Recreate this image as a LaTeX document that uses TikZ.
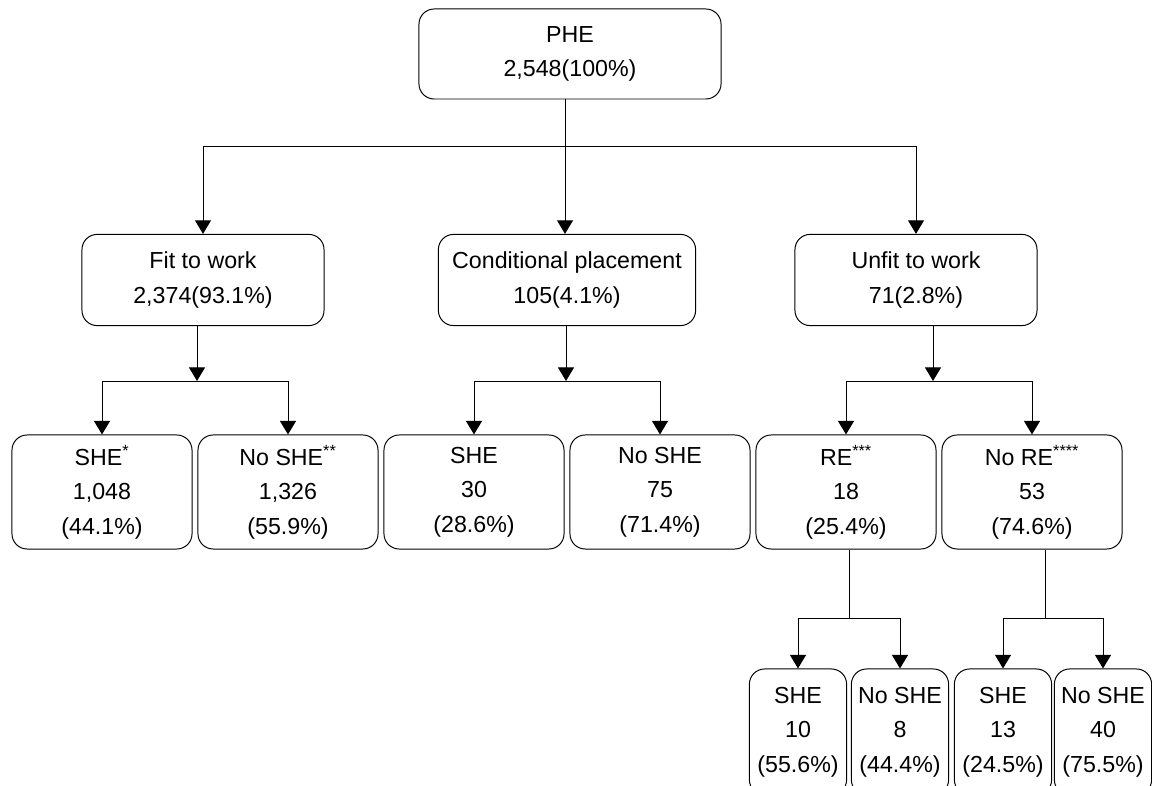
\documentclass[tikz,border=0pt]{standalone}
\usepackage{fontspec}
\setmainfont{Liberation Sans}
\usetikzlibrary{arrows.meta}

\begin{document}
\begin{tikzpicture}[x=0.025cm, y=-0.025cm,
    box/.style={draw, rounded corners=0.38cm, line width=0.7pt, align=center, inner sep=0pt,
      font=\fontsize{16.5}{24.5}\selectfont},
    topbox/.style={box, minimum width=7.55cm, minimum height=2.25cm},
    midbox/.style={box, minimum width=6.05cm, minimum height=2.28cm},
    leafbox/.style={box, minimum width=4.5cm, minimum height=2.85cm},
    smallbox/.style={box, minimum width=2.43cm, minimum height=3.15cm},
    arr/.style={-{Triangle[width=0.4cm, length=0.34cm]}, line width=0.7pt},
    link/.style={line width=0.7pt}]
    \useasboundingbox (0,0) rectangle (1152,786);

    % boxes
    \node [topbox] (phe) at (570,54) {PHE\\2,548(100\%)};

    \node [midbox] (fit) at (203,280) {Fit to work\\2,374(93.1\%)};
    \node [midbox, minimum width=6.43cm] (cond) at (567,280) {Conditional placement\\105(4.1\%)};
    \node [midbox] (unfit) at (916,280) {Unfit to work\\71(2.8\%)};

    \node [leafbox] (fitshe) at (102,492) {SHE\textsuperscript{*}\\1,048\\(44.1\%)};
    \node [leafbox] (fitnoshe) at (288,492) {No SHE\textsuperscript{**}\\1,326\\(55.9\%)};
    \node [leafbox] (condshe) at (474,492) {SHE\\30\\(28.6\%)};
    \node [leafbox] (condnoshe) at (660,492) {No SHE\\75\\(71.4\%)};
    \node [leafbox] (re) at (846,492) {RE\textsuperscript{***}\\18\\(25.4\%)};
    \node [leafbox] (nore) at (1032,492) {No RE\textsuperscript{****}\\53\\(74.6\%)};

    \node [smallbox] (reshe) at (798,732) {SHE\\10\\(55.6\%)};
    \node [smallbox] (renoshe) at (900,732) {No SHE\\8\\(44.4\%)};
    \node [smallbox] (noreshe) at (1003,732) {SHE\\13\\(24.5\%)};
    \node [smallbox] (norenoshe) at (1103,732) {No SHE\\40\\(75.5\%)};

    % first split
    \coordinate (phebar) at (565,146);
    \draw [link] (phe.south -| phebar) -- (phebar);
    \draw [arr] (phebar) -| (fit);
    \draw [arr] (phebar) -- (phebar |- cond.north);
    \draw [arr] (phebar) -| (unfit);

    % second split
    \coordinate (fitbar) at (197,381);
    \coordinate (condbar) at (566,381);
    \coordinate (unfitbar) at (933,381);
    \draw [arr] (fitbar |- fit.south) -- (fitbar);
    \draw [arr] (fitbar) -| (fitshe);
    \draw [arr] (fitbar) -| (fitnoshe);
    \draw [arr] (condbar |- cond.south) -- (condbar);
    \draw [arr] (condbar) -| (condshe);
    \draw [arr] (condbar) -| (condnoshe);
    \draw [arr] (unfitbar |- unfit.south) -- (unfitbar);
    \draw [arr] (unfitbar) -| (re);
    \draw [arr] (unfitbar) -| (nore);

    % third split
    \coordinate (rebar) at (849,618);
    \coordinate (norebar) at (1045,618);
    \draw [link] (rebar |- re.south) -- (rebar);
    \draw [arr] (rebar) -| (reshe);
    \draw [arr] (rebar) -| (renoshe);
    \draw [link] (norebar |- nore.south) -- (norebar);
    \draw [arr] (norebar) -| (noreshe);
    \draw [arr] (norebar) -| (norenoshe);
\end{tikzpicture}
\end{document}
